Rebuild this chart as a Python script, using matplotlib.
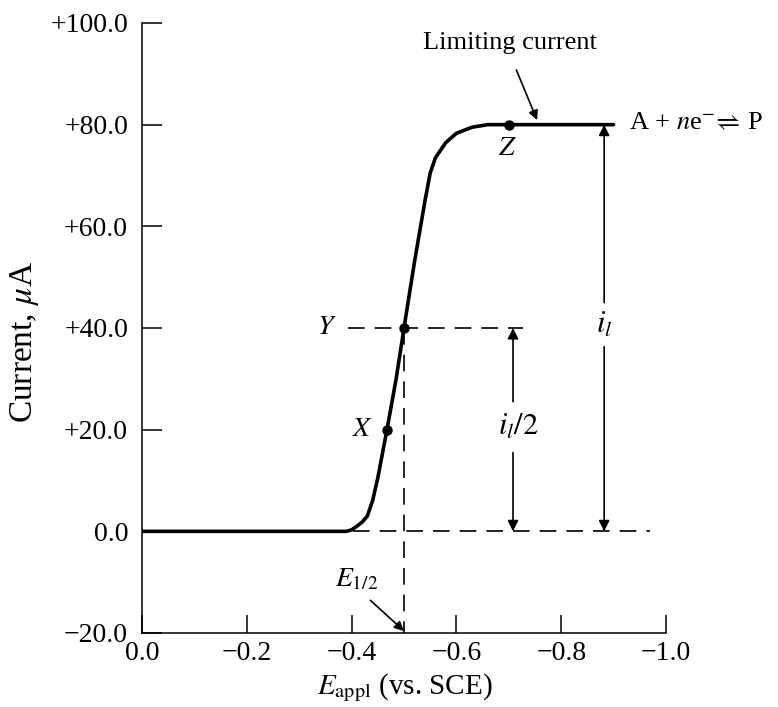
import numpy as np
import matplotlib.pyplot as plt
import matplotlib as mpl

mpl.rcParams['font.family'] = ['Liberation Serif', 'DejaVu Serif']
mpl.rcParams['mathtext.fontset'] = 'stix'

# polarographic wave
E_curve = [0.0, -0.39, -0.40, -0.41, -0.42, -0.43, -0.44, -0.45, -0.4675,
           -0.485, -0.50, -0.52, -0.54, -0.55, -0.56, -0.58, -0.60, -0.63,
           -0.66, -0.70, -0.90]
I_curve = [0.0, 0.0, 0.3, 1.0, 1.8, 3.0, 6.0, 10.5, 20.0,
           30.0, 40.0, 53.0, 65.0, 70.5, 73.5, 76.5, 78.3, 79.5,
           80.0, 80.0, 80.0]

point_names = ['X', 'Y', 'Z']
point_E = [-0.4675, -0.50, -0.70]
point_I = [20.0, 40.0, 80.0]

E_half = -0.50
i_lim = 80.0

x_ticks = [0.0, -0.2, -0.4, -0.6, -0.8, -1.0]
x_ticklabels = ['0.0', '\u22120.2', '\u22120.4', '\u22120.6', '\u22120.8', '\u22121.0']
y_ticks = [-20, 0, 20, 40, 60, 80, 100]
y_ticklabels = ['\u221220.0', '0.0', '+20.0', '+40.0', '+60.0', '+80.0', '+100.0']

fig = plt.figure(figsize=(7.78, 7.07), dpi=100)
ax = fig.add_axes([142/778, 74/707, 524/778, 610/707])

ax.plot(E_curve, I_curve, 'k-', lw=2.6, solid_capstyle='round', zorder=3)
ax.plot(point_E, point_I, 'ko', ms=6.5, zorder=4)

dash = dict(color='k', lw=1.2, dashes=(10, 6))
# zero line, half-wave line, E1/2 vertical
ax.plot([-0.403, -0.97], [0, 0], **dash)
ax.plot([-0.393, -0.727], [i_lim/2, i_lim/2], **dash)
ax.plot([E_half, E_half], [i_lim/2, -20], **dash)

arr = dict(arrowstyle='-|>', color='k', lw=1.2, mutation_scale=16, shrinkA=0, shrinkB=0)
# i_l double arrow
ax.annotate('', xy=(-0.882, i_lim), xytext=(-0.882, 45), arrowprops=arr)
ax.annotate('', xy=(-0.882, 0), xytext=(-0.882, 36.3), arrowprops=arr)
ax.text(-0.882, 40.5, '$i_l$', fontsize=22, ha='center', va='center')
# i_l/2 double arrow
ax.annotate('', xy=(-0.708, i_lim/2), xytext=(-0.708, 25.5), arrowprops=arr)
ax.annotate('', xy=(-0.708, 0), xytext=(-0.708, 15.5), arrowprops=arr)
ax.text(-0.718, 20.4, '$i_l/2$', fontsize=22, ha='center', va='center')

# point labels
ax.text(-0.353, 40, '$Y$', fontsize=20, ha='center', va='center')
ax.text(-0.42, 20, '$X$', fontsize=20, ha='center', va='center')
ax.text(-0.698, 75.4, '$Z$', fontsize=20, ha='center', va='center')

# E1/2 arrow
ax.annotate('$E_{1/2}$', xy=(E_half, -19.6), xytext=(-0.41, -9.4), fontsize=20,
            ha='center', va='center',
            arrowprops=dict(arrowstyle='-|>', color='k', lw=1.2, mutation_scale=14,
                            shrinkA=6, shrinkB=0, relpos=(0.6, 0.0)))

# limiting current label
ax.annotate('Limiting current', xy=(-0.754, 80.9), xytext=(-0.868, 96), fontsize=19,
            ha='right', va='center', annotation_clip=False,
            arrowprops=dict(arrowstyle='-|>', color='k', lw=1.2, mutation_scale=14,
                            shrinkA=10, shrinkB=0, relpos=(0.5, 0.0)))

ax.text(-0.929, 80.3, 'A + $n$e$^{-}\\!\\rightleftharpoons\\!$ P', fontsize=19,
        ha='left', va='center', clip_on=False)

ax.set_xlim(0, -1.0)
ax.set_ylim(-20, 100)
ax.set_xticks(x_ticks)
ax.set_xticklabels(x_ticklabels, fontsize=20)
ax.set_yticks(y_ticks)
ax.set_yticklabels(y_ticklabels, fontsize=20)
ax.tick_params(axis='y', direction='in', length=14.4, width=1.1, pad=10)
ax.tick_params(axis='x', direction='in', length=13, width=1.1, pad=6)

ax.spines['right'].set_visible(False)
ax.spines['top'].set_visible(False)
ax.spines['left'].set_linewidth(1.1)
ax.spines['bottom'].set_linewidth(1.1)

ax.set_ylabel('Current, $\\mu$A', fontsize=24, va='center')
ax.yaxis.set_label_coords(-0.225, 0.477)
ax.set_xlabel('$E_{\\rm appl}$ (vs. SCE)', fontsize=21, va='center')
ax.xaxis.set_label_coords(0.502, -0.09)

plt.savefig('out.png', dpi=100)
